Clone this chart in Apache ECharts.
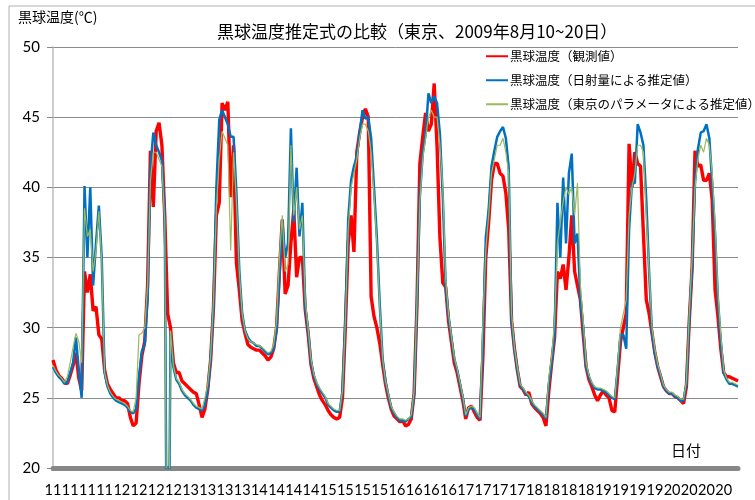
<!DOCTYPE html>
<html>
<head>
<meta charset="utf-8">
<script src="https://cdn.jsdelivr.net/npm/echarts@6/dist/echarts.min.js"></script>
<style>
  html, body { margin: 0; padding: 0; background: #fff; }
  #main { width: 755px; height: 500px; }
</style>
</head>
<body>
<div id="main"></div>
<script>
// 日付（8月11日〜20日、1時間ごと）
var days = [11, 12, 13, 14, 15, 16, 17, 18, 19, 20];
var yTicks = [20, 25, 30, 35, 40, 45, 50];
var seriesNames = ['黒球温度（観測値）', '黒球温度（日射量による推定値）', '黒球温度（東京のパラメータによる推定値）'];

// 観測値
var observed = [
  27.7, 27.0, 26.6, 26.4, 26.1, 26.0, 26.6, 27.3, 28.2, 26.4, 25.5, 34.0, 32.5, 33.8, 31.2, 31.5, 29.5, 29.2, 27.0, 26.0, 25.6, 25.3, 25.0, 25.0,
  24.8, 24.8, 24.6, 23.6, 23.0, 23.2, 26.0, 28.0, 29.0, 33.0, 42.6, 38.6, 44.0, 44.6, 43.0, 37.9, 31.0, 30.0, 27.5, 26.8, 26.8, 26.2, 26.0, 25.8,
  25.6, 25.4, 25.3, 24.5, 23.6, 24.2, 25.6, 27.7, 31.5, 38.0, 38.9, 46.0, 45.5, 46.1, 39.3, 43.0, 34.6, 32.7, 30.5, 29.6, 28.8, 28.6, 28.5, 28.4,
  28.4, 28.2, 28.0, 27.7, 27.9, 28.5, 30.0, 34.0, 37.7, 32.4, 33.0, 36.0, 38.4, 33.6, 35.0, 35.0, 31.3, 29.6, 27.4, 26.4, 25.8, 25.2, 24.8, 24.5,
  24.1, 23.8, 23.6, 23.5, 23.6, 25.0, 30.0, 36.0, 38.0, 35.4, 42.5, 43.9, 45.0, 45.6, 45.0, 32.2, 30.8, 30.0, 28.9, 27.4, 26.0, 25.0, 24.2, 23.7,
  23.5, 23.3, 23.4, 23.0, 23.1, 23.5, 25.3, 31.7, 41.7, 43.6, 45.3, 44.0, 44.5, 47.4, 42.9, 36.4, 33.2, 32.9, 30.5, 29.0, 27.5, 26.8, 25.8, 24.8,
  23.5, 24.3, 24.4, 24.0, 23.6, 23.4, 28.0, 35.0, 37.5, 40.5, 41.7, 41.7, 41.0, 40.8, 39.6, 37.0, 30.5, 28.5, 27.0, 25.8, 25.6, 25.2, 25.4, 24.6,
  24.3, 24.1, 23.9, 23.6, 23.0, 25.5, 27.5, 29.3, 34.0, 33.5, 34.5, 32.7, 35.0, 38.0, 34.0, 33.0, 32.0, 29.5, 27.2, 26.3, 25.8, 25.2, 24.8, 25.2,
  25.5, 25.2, 25.0, 24.1, 24.0, 26.5, 29.0, 30.0, 31.0, 43.1, 40.0, 42.5, 41.7, 41.5, 36.7, 32.0, 31.0, 29.6, 28.2, 27.2, 26.5, 25.8, 25.5, 25.3,
  25.3, 25.1, 25.0, 24.8, 24.6, 25.8, 30.5, 34.3, 42.6, 41.5, 41.6, 40.5, 40.5, 41.0, 39.1, 32.7, 30.8, 28.5, 26.8, 26.5, 26.5, 26.4, 26.3, 26.2
];

// 日射量による推定値
var estRadiation = [
  27.2, 26.8, 26.5, 26.3, 26.0, 26.1, 26.8, 27.5, 29.3, 27.0, 25.0, 40.1, 35.0, 40.0, 33.0, 36.0, 38.7, 35.0, 26.8, 25.8, 25.3, 25.0, 24.8, 24.7,
  24.6, 24.5, 24.3, 24.0, 23.9, 24.2, 26.5, 28.3, 28.8, 32.0, 41.4, 43.9, 43.0, 42.5, 41.9, 38.0, 0, 29.6, 27.2, 26.3, 26.0, 25.5, 25.2, 25.0,
  24.8, 24.5, 24.3, 24.2, 24.1, 24.5, 25.6, 27.7, 31.5, 40.0, 44.8, 45.5, 45.0, 44.5, 43.6, 43.6, 39.6, 34.1, 31.0, 29.8, 29.3, 29.0, 28.9, 28.7,
  28.7, 28.5, 28.3, 28.1, 28.2, 28.5, 29.8, 33.5, 37.7, 35.0, 36.0, 44.2, 37.5, 41.4, 36.5, 38.9, 31.5, 29.8, 27.6, 26.6, 26.0, 25.6, 25.3, 25.0,
  24.5, 24.3, 24.1, 24.0, 24.0, 25.5, 30.5, 37.7, 40.5, 41.5, 42.2, 43.9, 45.5, 44.9, 45.0, 43.5, 40.0, 36.4, 31.7, 27.8, 26.2, 25.2, 24.3, 23.9,
  23.6, 23.4, 23.4, 23.3, 23.5, 23.6, 25.3, 31.7, 39.3, 42.4, 43.8, 46.7, 46.0, 46.5, 46.0, 43.8, 39.3, 33.0, 30.8, 29.3, 27.8, 27.0, 26.0, 25.0,
  23.7, 24.2, 24.3, 24.2, 23.8, 23.5, 29.0, 36.4, 38.4, 41.5, 42.6, 43.6, 44.0, 44.3, 43.5, 41.4, 30.5, 28.5, 27.0, 25.9, 25.6, 25.3, 25.1, 24.7,
  24.4, 24.2, 24.0, 23.8, 23.5, 26.0, 27.5, 29.5, 38.9, 35.0, 40.7, 36.0, 41.0, 42.4, 36.0, 36.7, 32.0, 30.0, 27.2, 26.5, 26.0, 25.7, 25.6, 25.6,
  25.5, 25.4, 25.2, 25.0, 24.9, 27.0, 29.5, 29.5, 28.5, 37.0, 40.3, 40.3, 44.5, 43.9, 43.0, 39.1, 33.9, 29.6, 28.2, 27.2, 26.6, 25.8, 25.5, 25.3,
  25.3, 25.1, 25.0, 24.8, 24.8, 26.0, 30.5, 34.3, 40.3, 42.7, 43.9, 44.0, 44.5, 43.5, 40.3, 36.7, 32.0, 29.0, 26.8, 26.3, 26.0, 26.0, 25.9, 25.8
];

// 東京のパラメータによる推定値
var estTokyo = [
  27.3, 26.9, 26.6, 26.4, 26.1, 26.5, 27.5, 28.6, 29.6, 29.0, 27.5, 38.5, 36.5, 37.0, 34.0, 35.5, 38.3, 34.8, 26.8, 25.9, 25.4, 25.1, 24.9, 24.8,
  24.7, 24.6, 24.4, 24.1, 24.0, 25.0, 29.5, 29.6, 30.0, 33.0, 40.5, 42.5, 42.5, 42.0, 41.5, 37.5, 0, 29.8, 27.3, 26.4, 26.1, 25.6, 25.3, 25.1,
  24.9, 24.6, 24.4, 24.3, 24.2, 25.0, 26.0, 28.0, 32.0, 38.5, 42.0, 44.0, 43.5, 43.0, 35.5, 42.5, 39.0, 34.0, 31.0, 29.8, 29.2, 29.0, 28.9, 28.8,
  28.7, 28.6, 28.4, 28.2, 28.3, 28.8, 30.5, 35.0, 38.0, 34.0, 34.5, 43.0, 38.0, 40.0, 37.0, 38.0, 32.0, 30.0, 27.8, 26.7, 26.1, 25.7, 25.4, 25.1,
  24.6, 24.4, 24.2, 24.1, 24.1, 25.5, 30.5, 37.0, 40.0, 41.0, 42.0, 43.5, 44.5, 44.5, 44.0, 42.5, 39.5, 36.0, 31.5, 27.8, 26.2, 25.3, 24.4, 24.0,
  23.7, 23.5, 23.5, 23.4, 23.5, 23.8, 25.5, 32.0, 39.0, 42.0, 43.5, 45.0, 45.5, 45.0, 45.0, 43.0, 40.0, 33.5, 31.0, 29.4, 27.9, 27.1, 26.1, 25.1,
  23.8, 24.3, 24.4, 24.3, 23.9, 23.6, 30.5, 35.5, 38.0, 41.0, 42.0, 43.0, 43.0, 43.5, 42.5, 41.0, 31.0, 28.6, 27.2, 26.0, 25.7, 25.4, 25.2, 24.8,
  24.5, 24.3, 24.1, 23.9, 23.6, 26.5, 28.0, 30.5, 36.0, 37.5, 39.0, 40.0, 39.5, 40.0, 38.0, 40.3, 33.0, 30.5, 27.5, 26.6, 26.1, 25.8, 25.7, 25.7,
  25.6, 25.5, 25.3, 25.1, 25.0, 27.3, 30.0, 31.0, 32.0, 38.0, 40.0, 41.0, 43.0, 43.0, 42.5, 38.0, 34.0, 30.0, 28.5, 27.4, 26.7, 25.9, 25.6, 25.4,
  25.4, 25.2, 25.1, 24.9, 24.9, 26.2, 31.0, 35.0, 40.0, 42.0, 43.0, 42.5, 43.5, 43.0, 41.0, 37.5, 32.5, 29.5, 27.0, 26.4, 26.1, 26.1, 26.0, 25.9
];

// カテゴリ（各日24時間分）
var categories = [];
days.forEach(function (d) {
  for (var h = 0; h < 24; h++) categories.push(String(d));
});

var jp = "'Noto Sans CJK JP', sans-serif";
var num = "Lato, 'Noto Sans', sans-serif";

var myChart = echarts.init(document.getElementById('main'));
myChart.setOption({
  animation: false,
  backgroundColor: '#fff',
  title: {
    text: '黒球温度推定式の比較（東京、2009年8月10~20日）',
    left: 212,
    top: 18,
    textStyle: { fontFamily: jp, fontSize: 17, fontWeight: 'normal', color: '#000' }
  },
  legend: {
    orient: 'vertical',
    left: 480,
    top: 45,
    itemWidth: 22,
    itemHeight: 14,
    itemGap: 11.5,
    itemStyle: { opacity: 0 },
    data: seriesNames,
    textStyle: { fontFamily: jp, fontSize: 12.5, color: '#000', padding: [0, 0, 0, -3] }
  },
  grid: { left: 53, right: 17, top: 47, bottom: 32, outerBoundsMode: 'none' },
  graphic: [
    { type: 'rect', shape: { x: 9, y: 6, width: 800, height: 600 }, style: { fill: 'none', stroke: '#b0b0b0', lineWidth: 1 }, silent: true },
    { type: 'text', left: 18, top: 10, style: { text: '黒球温度(℃)', font: "14px 'Noto Sans CJK JP'", fill: '#000' } },
    { type: 'text', left: 671, top: 443, style: { text: '日付', font: "15px 'Noto Sans CJK JP'", fill: '#000' } }
  ],
  xAxis: {
    type: 'category',
    data: categories,
    boundaryGap: false,
    axisLine: { lineStyle: { color: '#878787', width: 5 } },
    axisTick: { show: false },
    axisLabel: { interval: 5, margin: 15, fontFamily: num, fontSize: 14.5, color: '#000' },
    splitLine: { show: false }
  },
  yAxis: {
    type: 'value',
    min: yTicks[0],
    max: yTicks[yTicks.length - 1],
    interval: 5,
    axisLine: { show: true, lineStyle: { color: '#bdbdbd', width: 1.5 } },
    axisTick: { show: true, length: 6, lineStyle: { color: '#888' } },
    axisLabel: { margin: 13, fontFamily: num, fontSize: 15, color: '#000' },
    splitLine: { lineStyle: { color: '#8c8c8c', width: 1 } }
  },
  series: [
    {
      name: seriesNames[0], type: 'line', data: observed, symbol: 'none',
      color: '#ff0000', lineStyle: { width: 3.4 }
    },
    {
      name: seriesNames[1], type: 'line', data: estRadiation, symbol: 'none',
      color: '#0070c0', lineStyle: { width: 2.5 }
    },
    {
      name: seriesNames[2], type: 'line', data: estTokyo, symbol: 'none',
      color: '#9bbb59', lineStyle: { width: 1.2 }
    }
  ]
});
</script>
</body>
</html>
